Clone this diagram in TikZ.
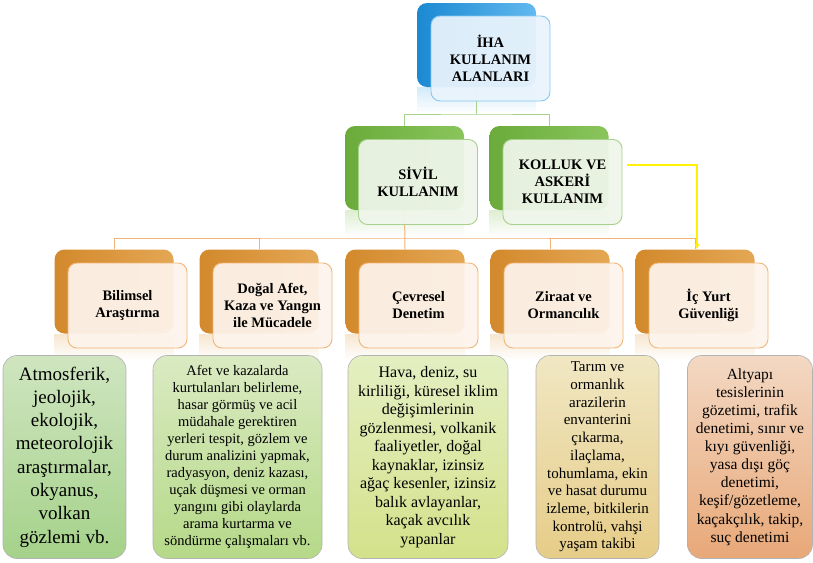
\documentclass[tikz,border=0pt]{standalone}
\usepackage{fontspec}
\setmainfont{Liberation Serif}
\usetikzlibrary{calc,fadings,backgrounds,arrows.meta}
\definecolor{bluL}{HTML}{1B89D2}
\definecolor{bluR}{HTML}{62B9EE}
\definecolor{bluF}{HTML}{EAF4FC}
\definecolor{bluE}{HTML}{86C8F0}
\definecolor{grnL}{HTML}{6AAB3B}
\definecolor{grnR}{HTML}{8AC55C}
\definecolor{grnF}{HTML}{F0F6EB}
\definecolor{grnE}{HTML}{A9D18E}
\definecolor{orgL}{HTML}{D3892C}
\definecolor{orgR}{HTML}{E4A754}
\definecolor{orgF}{HTML}{FDF4EC}
\definecolor{orgE}{HTML}{F2B677}
\definecolor{oline}{HTML}{F2B27A}
\definecolor{gline}{HTML}{A9D18E}
\definecolor{aT}{HTML}{CFE5C0}\definecolor{aB}{HTML}{A5D28A}
\definecolor{bT}{HTML}{DAEAC2}\definecolor{bB}{HTML}{B5D988}
\definecolor{cT}{HTML}{E4EFC2}\definecolor{cB}{HTML}{D4E18A}
\definecolor{dT}{HTML}{F0E7C3}\definecolor{dB}{HTML}{E6CC88}
\definecolor{eT}{HTML}{F3D8C3}\definecolor{eB}{HTML}{E8A878}
\tikzset{
  backbox/.style={rounded corners=10pt, minimum width=119pt, minimum height=84pt, inner sep=0pt},
  frontbox/.style={rounded corners=9pt, minimum width=119pt, minimum height=85pt, inner sep=0pt,
     align=center, line width=0.9pt, fill opacity=0.93, text opacity=1,
     font=\fontsize{14.5}{17}\selectfont\bfseries},
  blueback/.style={backbox, left color=bluL, right color=bluR},
  greenback/.style={backbox, left color=grnL, right color=grnR},
  orangeback/.style={backbox, left color=orgL, right color=orgR},
  bluefront/.style={frontbox, fill=bluF, draw=bluE},
  greenfront/.style={frontbox, fill=grnF, draw=grnE},
  orangefront/.style={frontbox, fill=orgF, draw=orgE},
  glink/.style={draw=gline, line width=1pt},
  olink/.style={draw=oline, line width=1pt},
  ylink/.style={draw=yellow, line width=1.4pt, -{Stealth[length=6pt,width=5pt]}},
  infobox/.style={rounded corners=14pt, minimum height=203pt, inner sep=0pt, align=center,
     draw=black!30, line width=0.6pt},
}
\begin{document}
\begin{tikzpicture}[x=1pt,y=-1pt]
\useasboundingbox (0,0) rectangle (813,562);

% level 1
\node[blueback] (topB) at (476.5,45) {};
% level 2
\node[greenback] (sivB) at (404.5,168) {};
\node[greenback] (kolB) at (549,168) {};
% level 3
\node[orangeback] (bilB) at (114,291.5) {};
\node[orangeback] (dogB) at (259,291.5) {};
\node[orangeback] (cevB) at (405,291.5) {};
\node[orangeback] (zirB) at (550,291.5) {};
\node[orangeback] (icB)  at (695,291.5) {};

\begin{pgfonlayer}{background}
  \fill[white] (0,0) rectangle (813,562);
  % reflections
  \foreach \n/\c in {topB/bluR, sivB/grnR, kolB/grnR, bilB/orgR, dogB/orgR, cevB/orgR, zirB/orgR, icB/orgR}{
    \fill[\c, opacity=0.28, path fading=south] (\n.south west) rectangle ($(\n.south east)+(0,26)$);
  }
  % connectors
  \coordinate (j1) at (476.5,114);
  \coordinate (j2) at (404.5,238);
  \draw[glink] (topB.south) -- (j1);
  \draw[glink] (sivB.north) |- (j1) -| (kolB.north);
  \draw[olink] (sivB.south) -- (cevB.north);
  \draw[olink] (bilB.north) |- (j2) -| (icB.north);
  \draw[olink] (dogB.north) -- (dogB.north |- j2);
  \draw[olink] (zirB.north) -- (zirB.north |- j2);
\end{pgfonlayer}

% front boxes
\node[bluefront] (topF) at (490.5,58.5) {İHA\\KULLANIM\\ALANLARI};
\node[greenfront] (sivF) at (418,182) {SİVİL\\KULLANIM};
\node[greenfront] (kolF) at (562.5,182) {KOLLUK VE\\ASKERİ\\KULLANIM};
\node[orangefront] (bilF) at (127.5,305.5) {Bilimsel\\Araştırma};
\node[orangefront] (dogF) at (272.5,305.5) {Doğal Afet,\\Kaza ve Yangın\\ile Mücadele};
\node[orangefront] (cevF) at (418.5,305.5) {Çevresel\\Denetim};
\node[orangefront] (zirF) at (563.5,305.5) {Ziraat ve\\Ormancılık};
\node[orangefront] (icF)  at (708.5,305.5) {İç Yurt\\Güvenliği};

% yellow connector
\draw[ylink] ($(kolF.east)+(5,-17)$) -| ($(icB.north)+(2,0)$);

% info boxes
\node[infobox, top color=aT, bottom color=aB, minimum width=123pt,
  font=\fontsize{19}{23.3}\selectfont] (infA) at (64.5,457)
  {Atmosferik,\\jeolojik,\\ekolojik,\\meteorolojik\\araştırmalar,\\okyanus,\\volkan\\gözlemi vb.};
\node[infobox, top color=bT, bottom color=bB, minimum width=169pt,
  font=\fontsize{14.5}{17}\selectfont] (infB) at (237.5,457)
  {Afet ve kazalarda\\kurtulanları belirleme,\\hasar görmüş ve acil\\müdahale gerektiren\\yerleri tespit, gözlem ve\\durum analizini yapmak,\\radyasyon, deniz kazası,\\uçak düşmesi ve orman\\yangını gibi olaylarda\\arama kurtarma ve\\söndürme çalışmaları vb.};
\node[infobox, top color=cT, bottom color=cB, minimum width=160pt,
  font=\fontsize{16}{18.5}\selectfont] (infC) at (428,457)
  {Hava, deniz, su\\kirliliği, küresel iklim\\değişimlerinin\\gözlenmesi, volkanik\\faaliyetler, doğal\\kaynaklar, izinsiz\\ağaç kesenler, izinsiz\\balık avlayanlar,\\kaçak avcılık\\yapanlar};
\node[infobox, top color=dT, bottom color=dB, minimum width=123pt,
  font=\fontsize{15}{17.7}\selectfont] (infD) at (597.5,457)
  {Tarım ve\\ormanlık\\arazilerin\\envanterini\\çıkarma,\\ilaçlama,\\tohumlama, ekin\\ve hasat durumu\\izleme, bitkilerin\\kontrolü, vahşi\\yaşam takibi};
\node[infobox, top color=eT, bottom color=eB, minimum width=125pt,
  font=\fontsize{15.5}{18.1}\selectfont] (infE) at (750,457)
  {Altyapı\\tesislerinin\\gözetimi, trafik\\denetimi, sınır ve\\kıyı güvenliği,\\yasa dışı göç\\denetimi,\\keşif/gözetleme,\\kaçakçılık, takip,\\suç denetimi};
\end{tikzpicture}
\end{document}
